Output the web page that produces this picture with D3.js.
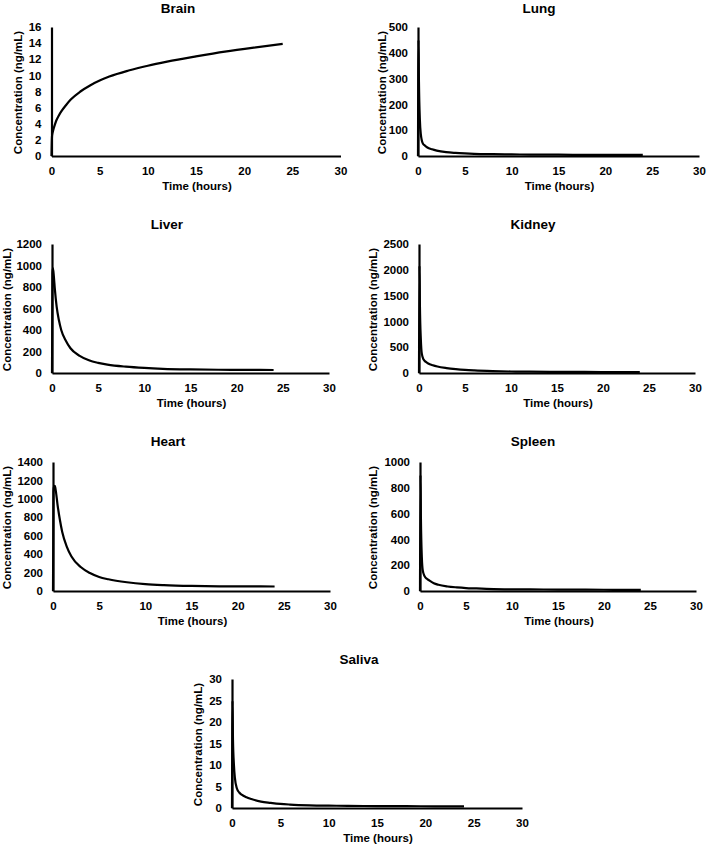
<!DOCTYPE html>
<html>
<head>
<meta charset="utf-8">
<script src="https://cdn.jsdelivr.net/npm/d3@7"></script>
<style>
  html, body { margin: 0; padding: 0; background: #fff; }
  svg { display: block; }
  text { font-family: "Liberation Sans", Arial, sans-serif; font-weight: bold; fill: #000; }
</style>
</head>
<body>
<svg id="chart" width="709" height="844"></svg>
<script>
// ---- DATA ----
const timeHours = [0, 0.05, 0.1, 0.2, 0.3, 0.5, 0.75, 1, 1.5, 2, 3, 4, 5, 6, 8, 10, 12, 15, 18, 21, 24];

const brain  = [0, 2.4, 2.8, 3.3, 3.7, 4.4, 5.0, 5.5, 6.3, 7.0, 8.0, 8.75, 9.35, 9.85, 10.6, 11.2, 11.7, 12.35, 12.95, 13.45, 13.9];
const lung   = [0, 450, 290, 140, 85, 50, 40, 33, 26, 21, 15, 12, 10, 8.5, 7, 6, 5.5, 5, 4.5, 4.2, 4];
const liver  = [0, 930, 975, 900, 790, 620, 490, 400, 300, 230, 160, 118, 94, 78, 59, 47, 39, 33, 30, 29, 28];
const kidney = [0, 2080, 1300, 650, 380, 260, 215, 185, 150, 125, 95, 75, 60, 50, 37, 29, 25, 22, 20, 19, 18];
const heart  = [0, 1080, 1130, 1140, 1090, 930, 770, 640, 480, 375, 260, 195, 152, 127, 95, 75, 64, 55, 51, 50, 49];
const spleen = [0, 900, 560, 260, 160, 115, 95, 82, 60, 48, 35, 28, 23, 20, 15, 13, 12, 11, 10, 9.5, 9];
const saliva = [0, 25, 16, 10, 7, 4.6, 3.6, 3.1, 2.5, 2.1, 1.5, 1.2, 0.95, 0.8, 0.62, 0.54, 0.5, 0.45, 0.42, 0.4, 0.39];

const organNames = ["Brain", "Lung", "Liver", "Kidney", "Heart", "Spleen", "Saliva"];
const organSeries = [brain, lung, liver, kidney, heart, spleen, saliva];

const xTicks = [0, 5, 10, 15, 20, 25, 30];
const yTicksBrain  = [0, 2, 4, 6, 8, 10, 12, 14, 16];
const yTicksLung   = [0, 100, 200, 300, 400, 500];
const yTicksLiver  = [0, 200, 400, 600, 800, 1000, 1200];
const yTicksKidney = [0, 500, 1000, 1500, 2000, 2500];
const yTicksHeart  = [0, 200, 400, 600, 800, 1000, 1200, 1400];
const yTicksSpleen = [0, 200, 400, 600, 800, 1000];
const yTicksSaliva = [0, 5, 10, 15, 20, 25, 30];
const organYTicks = [yTicksBrain, yTicksLung, yTicksLiver, yTicksKidney, yTicksHeart, yTicksSpleen, yTicksSaliva];

const xLabel = "Time (hours)";
const yLabel = "Concentration (ng/mL)";

// ---- LAYOUT (pixel geometry of each panel) ----
const layout = [
  { x0: 51.5, x1: 340.5, yt: 27,  yb: 156, tx: 178, ty: 13,  ylx: 18 },
  { x0: 418,  x1: 699,   yt: 27,  yb: 156, tx: 539, ty: 13,  ylx: 382 },
  { x0: 52,   x1: 329,   yt: 244, yb: 373, tx: 167, ty: 229, ylx: 7 },
  { x0: 419,  x1: 695,   yt: 244, yb: 373, tx: 533, ty: 229, ylx: 373 },
  { x0: 53,   x1: 330,   yt: 462, yb: 591, tx: 168, ty: 446, ylx: 7 },
  { x0: 420,  x1: 696,   yt: 462, yb: 591, tx: 533, ty: 446, ylx: 373 },
  { x0: 232,  x1: 522,   yt: 679, yb: 808, tx: 359, ty: 664, ylx: 198 }
];

const svg = d3.select("#chart");

organNames.forEach((name, i) => {
  const L = layout[i];
  const ticks = organYTicks[i];
  const vals = organSeries[i];
  const x = d3.scaleLinear().domain([0, 30]).range([L.x0, L.x1]);
  const y = d3.scaleLinear().domain([0, d3.max(ticks)]).range([L.yb, L.yt]);
  const g = svg.append("g");

  // title
  g.append("text")
    .attr("x", L.tx).attr("y", L.ty)
    .attr("text-anchor", "middle")
    .style("font-size", "13.5px")
    .text(name);

  // x axis
  const xa = g.append("g")
    .attr("transform", `translate(0,${L.yb})`)
    .call(d3.axisBottom(x).tickValues(xTicks).tickSize(0).tickPadding(11).tickFormat(d3.format("d")));
  // y axis
  const ya = g.append("g")
    .attr("transform", `translate(${L.x0},0)`)
    .call(d3.axisLeft(y).tickValues(ticks).tickSize(0).tickPadding(10).tickFormat(d3.format("d")));

  [xa, ya].forEach(a => {
    a.select(".domain").attr("stroke", "#000").attr("stroke-width", 2.2);
    a.selectAll("text").style("font-size", "11.5px").style("font-family", "'Liberation Sans', Arial, sans-serif").style("font-weight", "bold").attr("fill", "#000");
  });

  // axis titles
  g.append("text")
    .attr("x", (L.x0 + L.x1) / 2 + 1)
    .attr("y", L.yb + 34)
    .attr("text-anchor", "middle")
    .style("font-size", "11.5px")
    .text(xLabel);

  g.append("text")
    .attr("transform", `translate(${L.ylx + 4},${(L.yt + L.yb) / 2 + 1}) rotate(-90)`)
    .attr("text-anchor", "middle")
    .style("font-size", "11.5px")
    .text(yLabel);

  // curve
  const pts = timeHours.map((t, k) => [t, vals[k]]);
  g.append("path")
    .datum(pts)
    .attr("fill", "none")
    .attr("stroke", "#000")
    .attr("stroke-width", 2.2)
    .attr("d", d3.line().x(d => x(d[0])).y(d => y(d[1])).curve(d3.curveMonotoneX));
});
</script>
</body>
</html>
